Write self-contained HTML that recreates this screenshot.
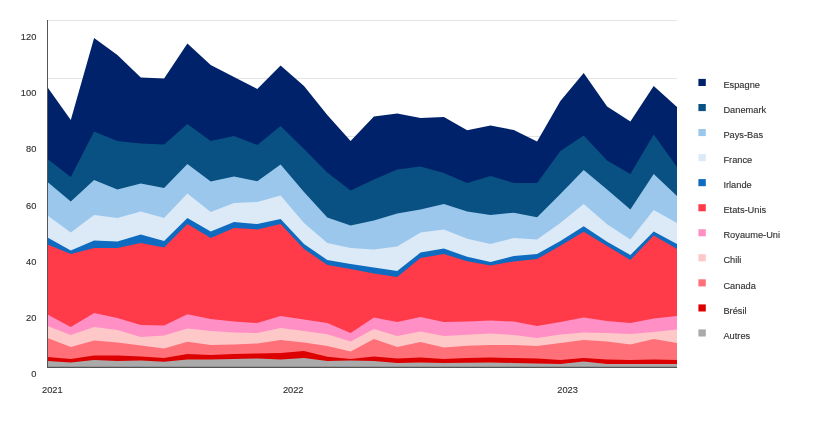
<!DOCTYPE html>
<html><head><meta charset="utf-8"><title>Chart</title>
<style>
html,body{margin:0;padding:0;background:#fff}
svg{display:block}
text{font-family:"Liberation Sans",Arial,sans-serif;font-size:9.8px;fill:#333;stroke:#333;stroke-width:0.15px}
</style></head><body>
<svg width="820" height="437" viewBox="0 0 820 437">
<rect width="820" height="437" fill="#fff"/>
<g><line x1="47.5" x2="677.0" y1="20.5" y2="20.5" stroke="#e4e4e4" stroke-width="1"/><line x1="47.5" x2="677.0" y1="78.5" y2="78.5" stroke="#e4e4e4" stroke-width="1"/><line x1="47.5" x2="677.0" y1="136.5" y2="136.5" stroke="#e4e4e4" stroke-width="1"/><line x1="47.5" x2="677.0" y1="194.5" y2="194.5" stroke="#e4e4e4" stroke-width="1"/><line x1="47.5" x2="677.0" y1="252.5" y2="252.5" stroke="#e4e4e4" stroke-width="1"/><line x1="47.5" x2="677.0" y1="310.5" y2="310.5" stroke="#e4e4e4" stroke-width="1"/></g>
<g><polygon fill="#00226b" points="47.5,87.2 70.8,120.0 94.1,38.0 117.4,55.0 140.8,77.4 164.1,78.4 187.4,43.6 210.7,65.0 234.0,77.0 257.3,89.0 280.6,65.6 304.0,86.0 327.3,115.0 350.6,141.0 373.9,116.6 397.2,113.6 420.5,118.0 443.9,117.0 467.2,130.3 490.5,125.6 513.8,130.0 537.1,141.6 560.4,101.0 583.7,73.0 607.1,106.4 630.4,121.6 653.7,86.0 677.0,107.0 677.0,367.5 47.5,367.5"/><polygon fill="#085182" points="47.5,159.0 70.8,177.0 94.1,131.6 117.4,141.0 140.8,143.6 164.1,144.4 187.4,124.0 210.7,141.0 234.0,136.0 257.3,145.0 280.6,126.0 304.0,149.0 327.3,172.5 350.6,190.6 373.9,179.6 397.2,169.6 420.5,166.4 443.9,173.0 467.2,183.0 490.5,176.0 513.8,183.0 537.1,183.0 560.4,151.0 583.7,135.5 607.1,160.5 630.4,174.0 653.7,134.5 677.0,167.0 677.0,367.5 47.5,367.5"/><polygon fill="#9cc7ec" points="47.5,182.0 70.8,201.6 94.1,180.0 117.4,189.4 140.8,183.4 164.1,188.0 187.4,164.0 210.7,181.6 234.0,176.5 257.3,181.2 280.6,164.6 304.0,192.0 327.3,217.5 350.6,225.5 373.9,220.4 397.2,213.6 420.5,209.6 443.9,204.0 467.2,211.5 490.5,215.0 513.8,212.7 537.1,217.2 560.4,194.0 583.7,170.0 607.1,189.5 630.4,209.5 653.7,174.0 677.0,196.0 677.0,367.5 47.5,367.5"/><polygon fill="#dceaf7" points="47.5,215.6 70.8,232.4 94.1,215.0 117.4,218.0 140.8,211.4 164.1,218.0 187.4,193.4 210.7,212.0 234.0,203.0 257.3,202.0 280.6,195.6 304.0,223.0 327.3,243.0 350.6,248.0 373.9,249.4 397.2,246.4 420.5,232.6 443.9,229.4 467.2,238.8 490.5,244.0 513.8,238.0 537.1,239.4 560.4,223.0 583.7,204.0 607.1,224.3 630.4,239.6 653.7,210.0 677.0,223.0 677.0,367.5 47.5,367.5"/><polygon fill="#0f6bbf" points="47.5,237.6 70.8,250.4 94.1,240.4 117.4,241.4 140.8,234.4 164.1,241.0 187.4,218.0 210.7,231.6 234.0,222.0 257.3,224.0 280.6,219.0 304.0,244.0 327.3,260.0 350.6,264.0 373.9,267.4 397.2,271.0 420.5,252.6 443.9,248.6 467.2,256.8 490.5,262.0 513.8,256.0 537.1,254.0 560.4,241.0 583.7,226.3 607.1,241.7 630.4,255.0 653.7,231.6 677.0,244.0 677.0,367.5 47.5,367.5"/><polygon fill="#ff3a49" points="47.5,244.4 70.8,254.0 94.1,248.0 117.4,248.0 140.8,243.0 164.1,247.6 187.4,224.0 210.7,238.0 234.0,228.0 257.3,229.4 280.6,224.0 304.0,249.0 327.3,265.0 350.6,269.0 373.9,273.4 397.2,277.0 420.5,258.0 443.9,254.0 467.2,261.2 490.5,265.4 513.8,261.4 537.1,259.0 560.4,245.8 583.7,231.8 607.1,246.0 630.4,260.0 653.7,235.6 677.0,249.0 677.0,367.5 47.5,367.5"/><polygon fill="#ff8fc5" points="47.5,314.4 70.8,327.0 94.1,313.0 117.4,318.0 140.8,325.0 164.1,325.6 187.4,314.2 210.7,319.0 234.0,321.6 257.3,323.0 280.6,316.0 304.0,319.6 327.3,323.0 350.6,333.0 373.9,317.6 397.2,322.0 420.5,317.0 443.9,322.0 467.2,321.6 490.5,320.6 513.8,321.6 537.1,326.0 560.4,322.0 583.7,317.6 607.1,321.0 630.4,323.0 653.7,318.6 677.0,316.0 677.0,367.5 47.5,367.5"/><polygon fill="#ffc8c8" points="47.5,326.0 70.8,335.0 94.1,327.0 117.4,330.0 140.8,337.0 164.1,335.6 187.4,328.4 210.7,331.0 234.0,332.4 257.3,333.0 280.6,328.0 304.0,331.0 327.3,334.2 350.6,341.6 373.9,329.0 397.2,336.0 420.5,331.6 443.9,336.0 467.2,334.7 490.5,333.6 513.8,335.0 537.1,338.0 560.4,334.4 583.7,332.4 607.1,333.0 630.4,334.0 653.7,332.0 677.0,329.6 677.0,367.5 47.5,367.5"/><polygon fill="#ff7078" points="47.5,338.0 70.8,347.0 94.1,340.4 117.4,342.4 140.8,345.6 164.1,348.6 187.4,341.8 210.7,345.0 234.0,344.4 257.3,343.4 280.6,340.0 304.0,342.4 327.3,346.0 350.6,351.6 373.9,339.0 397.2,347.0 420.5,342.0 443.9,347.4 467.2,345.8 490.5,345.0 513.8,345.0 537.1,346.0 560.4,343.0 583.7,340.0 607.1,341.6 630.4,344.4 653.7,339.0 677.0,343.0 677.0,367.5 47.5,367.5"/><polygon fill="#dd0000" points="47.5,357.0 70.8,359.0 94.1,355.6 117.4,355.6 140.8,356.4 164.1,358.0 187.4,354.0 210.7,355.0 234.0,354.0 257.3,353.4 280.6,353.0 304.0,351.0 327.3,356.7 350.6,359.0 373.9,356.4 397.2,358.4 420.5,357.6 443.9,359.0 467.2,358.0 490.5,357.6 513.8,358.0 537.1,358.6 560.4,360.0 583.7,358.0 607.1,359.5 630.4,360.0 653.7,359.4 677.0,360.0 677.0,367.5 47.5,367.5"/><polygon fill="#aaaaaa" points="47.5,361.0 70.8,362.4 94.1,360.0 117.4,361.0 140.8,360.5 164.1,361.8 187.4,359.4 210.7,359.6 234.0,359.0 257.3,358.6 280.6,359.4 304.0,358.0 327.3,361.0 350.6,360.4 373.9,361.0 397.2,363.0 420.5,362.4 443.9,363.0 467.2,362.8 490.5,362.4 513.8,363.0 537.1,363.6 560.4,364.0 583.7,361.6 607.1,364.0 630.4,364.0 653.7,364.0 677.0,364.0 677.0,367.5 47.5,367.5"/></g>
<line x1="47.5" x2="47.5" y1="20" y2="368" stroke="#555" stroke-width="1"/>
<line x1="47" x2="677.0" y1="367.4" y2="367.4" stroke="#555" stroke-width="1.2"/>
<g><text transform="translate(36.3,39.6) scale(0.947,1)" text-anchor="end">120</text><text transform="translate(36.3,95.9) scale(0.947,1)" text-anchor="end">100</text><text transform="translate(36.3,152.2) scale(0.947,1)" text-anchor="end">80</text><text transform="translate(36.3,208.5) scale(0.947,1)" text-anchor="end">60</text><text transform="translate(36.3,264.8) scale(0.947,1)" text-anchor="end">40</text><text transform="translate(36.3,321.1) scale(0.947,1)" text-anchor="end">20</text><text transform="translate(36.3,377.4) scale(0.947,1)" text-anchor="end">0</text><text transform="translate(42,393) scale(0.947,1)">2021</text><text transform="translate(293.2,393) scale(0.947,1)" text-anchor="middle">2022</text><text transform="translate(567.6,393) scale(0.947,1)" text-anchor="middle">2023</text></g>
<g><rect x="698.4" y="78.9" width="7.4" height="7.1" fill="#00226b"/><text transform="translate(723.4,88.1) scale(0.947,1)">Espagne</text><rect x="698.4" y="104.0" width="7.4" height="7.1" fill="#085182"/><text transform="translate(723.4,113.2) scale(0.947,1)">Danemark</text><rect x="698.4" y="129.0" width="7.4" height="7.1" fill="#9cc7ec"/><text transform="translate(723.4,138.2) scale(0.947,1)">Pays-Bas</text><rect x="698.4" y="154.1" width="7.4" height="7.1" fill="#dceaf7"/><text transform="translate(723.4,163.2) scale(0.947,1)">France</text><rect x="698.4" y="179.1" width="7.4" height="7.1" fill="#0f6bbf"/><text transform="translate(723.4,188.3) scale(0.947,1)">Irlande</text><rect x="698.4" y="204.2" width="7.4" height="7.1" fill="#ff3a49"/><text transform="translate(723.4,213.3) scale(0.947,1)">Etats-Unis</text><rect x="698.4" y="229.2" width="7.4" height="7.1" fill="#ff8fc5"/><text transform="translate(723.4,238.4) scale(0.947,1)">Royaume-Uni</text><rect x="698.4" y="254.2" width="7.4" height="7.1" fill="#ffc8c8"/><text transform="translate(723.4,263.4) scale(0.947,1)">Chili</text><rect x="698.4" y="279.3" width="7.4" height="7.1" fill="#ff7078"/><text transform="translate(723.4,288.5) scale(0.947,1)">Canada</text><rect x="698.4" y="304.4" width="7.4" height="7.1" fill="#dd0000"/><text transform="translate(723.4,313.6) scale(0.947,1)">Brésil</text><rect x="698.4" y="329.4" width="7.4" height="7.1" fill="#aaaaaa"/><text transform="translate(723.4,338.6) scale(0.947,1)">Autres</text></g>
</svg>
</body></html>
